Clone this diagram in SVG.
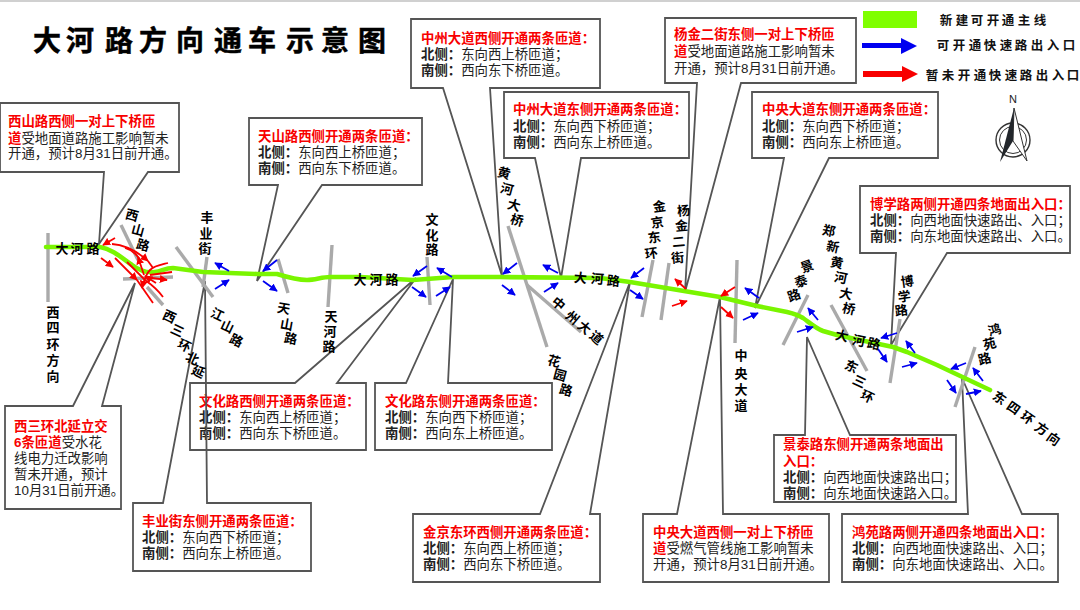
<svg xmlns="http://www.w3.org/2000/svg" width="1080" height="610" viewBox="0 0 1080 610">
<style>
text{font-family:"Liberation Sans","Noto Sans CJK SC",sans-serif}
.cb{fill:#fff;stroke:#555;stroke-width:1.8;stroke-linejoin:miter}
.t{font-size:13.4px;fill:#222}
.b{font-weight:700}
.r{font-weight:700;fill:#f80000}
.lb{font-size:13px;font-weight:700;fill:#000;text-anchor:middle;font-family:"Noto Sans CJK SC",sans-serif}
.lg{font-size:12.5px;font-weight:700;fill:#111;text-anchor:middle;font-family:"Noto Sans CJK SC",sans-serif}
.road{stroke:#aaa;stroke-width:3.4;fill:none}
.main{stroke:#7af500;stroke-width:4.6;fill:none;stroke-linejoin:round;stroke-linecap:round}
.ab{stroke:#0000f0;stroke-width:1.8;fill:none;marker-end:url(#mb)}
.ar{stroke:#f80000;stroke-width:1.8;fill:none;marker-end:url(#mr)}
.rl{stroke:#f80000;stroke-width:1.8;fill:none}
</style>
<defs>
<marker id="mb" viewBox="0 0 10 10" refX="9" refY="5" markerWidth="8" markerHeight="8" markerUnits="userSpaceOnUse" orient="auto"><path d="M0 0L10 5L0 10Z" fill="#0000f0"/></marker>
<marker id="mr" viewBox="0 0 10 10" refX="9" refY="5" markerWidth="8" markerHeight="8" markerUnits="userSpaceOnUse" orient="auto"><path d="M0 0L10 5L0 10Z" fill="#f80000"/></marker>
</defs>
<rect width="1080" height="610" fill="#fff"/>
<rect width="1080" height="2" fill="#d0d0d0"/>
<g id="title"><text class="lb" style="font-size:28px;stroke:#000;stroke-width:.5" x="47 80 119 153 190 228 262 300 335 372" y="51">大河路方向通车示意图</text></g>

<g id="box-xishan"><polygon class="cb" points="0,103 179,103 179,172 148,172 99,244 104,172 0,172"/>
<text class="t" x="8" y="125.500"><tspan class="r">西山路西侧一对上下桥匝</tspan></text>
<text class="t" x="8" y="142.500"><tspan class="r">道</tspan>受地面道路施工影响暂未</text>
<text class="t" x="8" y="158">开通，预计8月31日前开通。</text></g>

<g id="box-tianshan"><polygon class="cb" points="249,118 422,118 422,185 322,185 257,281 278,185 249,185"/>
<text class="t" x="258" y="140.500"><tspan class="r">天山路西侧开通两条匝道：</tspan></text>
<text class="t" x="258" y="156.500"><tspan class="b">北侧：</tspan>东向西上桥匝道；</text>
<text class="t" x="258" y="172.500"><tspan class="b">南侧：</tspan>西向东下桥匝道。</text></g>

<g id="box-zhongzhou-w"><polygon class="cb" points="411,19 600,19 600,88 490,88 502,276 443,88 411,88"/>
<text class="t" x="421" y="42.500"><tspan class="r">中州大道西侧开通两条匝道：</tspan></text>
<text class="t" x="421" y="58.500"><tspan class="b">北侧：</tspan>东向西上桥匝道；</text>
<text class="t" x="421" y="74.500"><tspan class="b">南侧：</tspan>西向东下桥匝道。</text></g>

<g id="box-zhongzhou-e"><polygon class="cb" points="504,92 689,92 689,158 581,158 561,278 535,158 504,158"/>
<text class="t" x="513" y="113.500"><tspan class="r">中州大道东侧开通两条匝道：</tspan></text>
<text class="t" x="513" y="130.500"><tspan class="b">北侧：</tspan>东向西下桥匝道；</text>
<text class="t" x="513" y="146.500"><tspan class="b">南侧：</tspan>西向东上桥匝道。</text></g>

<g id="box-yangjin"><polygon class="cb" points="665,18 856,18 856,83 741,83 685,292 697,83 665,83"/>
<text class="t" x="674" y="38.500"><tspan class="r">杨金二街东侧一对上下桥匝</tspan></text>
<text class="t" x="674" y="55.500"><tspan class="r">道</tspan>受地面道路施工影响暂未</text>
<text class="t" x="674" y="72.500">开通，预计8月31日前开通。</text></g>

<g id="box-zhongyang-e"><polygon class="cb" points="752,92 938,92 938,158 829,158 755,308 784,158 752,158"/>
<text class="t" x="762" y="113.500"><tspan class="r">中央大道东侧开通两条匝道：</tspan></text>
<text class="t" x="762" y="130.500"><tspan class="b">北侧：</tspan>东向西下桥匝道；</text>
<text class="t" x="762" y="146.500"><tspan class="b">南侧：</tspan>西向东上桥匝道。</text></g>

<g id="box-boxue"><polygon class="cb" points="860,186 1070,186 1070,253 947,253 891,345 896,253 860,253"/>
<text class="t" x="870" y="208.500"><tspan class="r">博学路两侧开通四条地面出入口：</tspan></text>
<text class="t" x="870" y="224.500"><tspan class="b">北侧：</tspan>向西地面快速路出、入口；</text>
<text class="t" x="870" y="240.500"><tspan class="b">南侧：</tspan>向东地面快速路出、入口。</text></g>

<g id="box-wenhua-w"><polygon class="cb" points="190,383 295,383 416,278 337,383 366,383 366,450 190,450"/>
<text class="t" x="199" y="405.500"><tspan class="r">文化路西侧开通两条匝道：</tspan></text>
<text class="t" x="199" y="421.500"><tspan class="b">北侧：</tspan>东向西上桥匝道；</text>
<text class="t" x="199" y="437.500"><tspan class="b">南侧：</tspan>西向东下桥匝道。</text></g>

<g id="box-wenhua-e"><polygon class="cb" points="375,383 406,383 453,279 448,383 552,383 552,450 375,450"/>
<text class="t" x="385" y="405.500"><tspan class="r">文化路东侧开通两条匝道：</tspan></text>
<text class="t" x="385" y="421.500"><tspan class="b">北侧：</tspan>东向西下桥匝道；</text>
<text class="t" x="385" y="437.500"><tspan class="b">南侧：</tspan>西向东上桥匝道。</text></g>

<g id="box-fengye"><polygon class="cb" style="fill:none" points="133,503 163,503 205,281 207,503 311,503 311,571 133,571"/>
<text class="t" x="142" y="525.500"><tspan class="r">丰业街东侧开通两条匝道：</tspan></text>
<text class="t" x="142" y="541.500"><tspan class="b">北侧：</tspan>东向西下桥匝道；</text>
<text class="t" x="142" y="557.500"><tspan class="b">南侧：</tspan>西向东上桥匝道。</text></g>

<g id="box-xisanhuan"><polygon class="cb" points="5,406 73,406 135,283 102,406 121,406 121,509 5,509"/>
<text class="t" x="14" y="430.500"><tspan class="r">西三环北延立交</tspan></text>
<text class="t" x="14" y="446.500"><tspan class="r">6条匝道</tspan>受水花</text>
<text class="t" x="14" y="462.500">线电力迁改影响</text>
<text class="t" x="14" y="478.500">暂未开通，预计</text>
<text class="t" x="14" y="494.500">10月31日前开通。</text></g>

<g id="box-jinjing"><polygon class="cb" points="413,514 540,514 630,282 590,514 600,514 600,582 413,582"/>
<text class="t" x="423" y="536.500"><tspan class="r">金京东环西侧开通两条匝道：</tspan></text>
<text class="t" x="423" y="552.500"><tspan class="b">北侧：</tspan>东向西上桥匝道；</text>
<text class="t" x="423" y="568.500"><tspan class="b">南侧：</tspan>西向东下桥匝道。</text></g>

<g id="box-zhongyang-w"><polygon class="cb" points="643,514 677,514 720,297 723,514 829,514 829,582 643,582"/>
<text class="t" x="653" y="536.500"><tspan class="r">中央大道西侧一对上下桥匝</tspan></text>
<text class="t" x="653" y="552.500"><tspan class="r">道</tspan>受燃气管线施工影响暂未</text>
<text class="t" x="653" y="568.500">开通，预计8月31日前开通。</text></g>

<g id="box-hongyuan"><polygon class="cb" points="842,514 968,514 962,378 1022,514 1058,514 1058,582 842,582"/>
<text class="t" x="852" y="536.500"><tspan class="r">鸿苑路两侧开通四条地面出入口：</tspan></text>
<text class="t" x="852" y="552.500"><tspan class="b">北侧：</tspan>向西地面快速路出、入口；</text>
<text class="t" x="852" y="568.500"><tspan class="b">南侧：</tspan>向东地面快速路出、入口。</text></g>

<g id="box-jingtai"><polygon class="cb" points="774,435 805,435 807,337 850,435 956,435 956,502 774,502"/>
<text class="t" x="783" y="448.500"><tspan class="r">景泰路东侧开通两条地面出</tspan></text>
<text class="t" x="783" y="465.500"><tspan class="r">入口：</tspan></text>
<text class="t" x="783" y="481.500"><tspan class="b">北侧：</tspan>向西地面快速路出口；</text>
<text class="t" x="783" y="497.500"><tspan class="b">南侧：</tspan>向东地面快速路入口。</text></g>

<g id="connectors">
<g id="roads" class="road">
<path d="M48 233L48 302"/><path d="M121 225L138 260"/><path d="M147 287L163 305"/><path d="M123 279L173 277"/><path d="M176 247L213 297"/><path d="M207 257L203 287"/><path d="M278 259L288 293"/><path d="M332 245L328 307"/><path d="M427 257L430 305"/><path d="M508 226L547 347"/><path d="M527 285L581 332"/><path d="M653 260L642 317"/><path d="M669 263L661 320"/><path d="M737 260L735 343"/><path d="M808 295L783 345"/><path d="M831 305L867 371"/><path d="M900 319L890 383"/><path d="M975 347L955 407"/>
</g>
<path class="main" d="M46 247L100 247C112 249 122 258 132 265C140 271 148 273 155 272C162 271 165 268 173 268L203 272L257 274L277 274C290 278 298 280 307 280C315 280 322 277 330 277L360 277L413 280L453 277L500 277L600 278L630 282L660 287L720 297L757 306L787 312C795 314 800 316 803 318C810 323 815 328 823 331L837 335L860 340L893 347L907 352L937 365L990 390"/>
<g id="ramps-red">
<path class="ar" d="M115 238L103 245"/><path class="ar" d="M101 258L113 267"/>
<path class="ar" d="M112 244C125 245 138 252 148 261"/><path class="rl" d="M148 261L153 268"/>
<path class="rl" d="M125 248C132 250 139 256 141 262"/><path class="ar" d="M144 275L138 257"/>
<path class="ar" d="M115 258L137 280"/><path class="rl" d="M137 280L153 303"/>
<path class="rl" d="M127 262L145 280"/>
<path class="ar" d="M168 263C160 265 154 266 150 270C146 274 144 280 142 288"/>
<path class="ar" d="M145 277L167 280"/><path class="rl" d="M145 280C152 285 158 290 163 297"/>
<path class="rl" d="M150 275L172 272"/><path class="ar" d="M156 283L145 276"/>
<path class="ar" d="M686 289L675 279"/><path class="ar" d="M672 306L687 301"/>
<path class="ar" d="M735 287L721 296"/><path class="ar" d="M721 307L733 318"/>
</g>
<g id="ramps-blue">
<path class="ab" d="M229 271L215 263"/><path class="ab" d="M215 289L229 280"/>
<path class="ab" d="M277 260L263 271"/><path class="ab" d="M263 281L277 291"/>
<path class="ab" d="M427 266L413 276"/><path class="ab" d="M412 287L426 297"/>
<path class="ab" d="M452 277L437 268"/><path class="ab" d="M436 296L450 287"/>
<path class="ab" d="M517 263L503 274"/><path class="ab" d="M502 285L515 295"/>
<path class="ab" d="M558 273L543 265"/><path class="ab" d="M544 292L558 283"/>
<path class="ab" d="M644 268L631 278"/><path class="ab" d="M630 290L643 299"/>
<path class="ab" d="M759 298L745 288"/><path class="ab" d="M743 320L758 313"/>
<path class="ab" d="M818 320L808 308"/><path class="ab" d="M797 332L813 327"/>
<path class="ab" d="M897 333L881 338"/><path class="ab" d="M878 349L887 362"/>
<path class="ab" d="M915 353L906 341"/><path class="ab" d="M902 367L917 363"/>
<path class="ab" d="M966 363L951 369"/><path class="ab" d="M947 380L956 393"/>
<path class="ab" d="M983 381L973 368"/><path class="ab" d="M966 394L981 391"/>
</g>
</g>

<g id="road-labels">
<text class="lb" x="53 53 53 53 53" y="317 332 349 365 381">西四环方向</text>
<text class="lb" x="131 137 142" y="218 233 248" rotate="15">西山路</text>
<text class="lb" x="207 206 205" y="222 238 253">丰业街</text>
<text class="lb" x="168 176 183 191 197" y="318 332 347 360 373" rotate="25">西三环北延</text>
<text class="lb" x="216 226 235" y="316 328 342" rotate="25">江山路</text>
<text class="lb" x="283 286 290" y="312 328 342" rotate="10">天山路</text>
<text class="lb" x="331 330 329" y="321 336 351">天河路</text>
<text class="lb" x="62 77 93" y="253 253 253">大河路</text>
<text class="lb" x="360 376 392" y="284 284 284">大河路</text>
<text class="lb" x="432 432 432" y="224 240 254">文化路</text>
<text class="lb" x="503 506 513 516" y="176 192 208 223" rotate="15">黄河大桥</text>
<text class="lb" x="557 571 583 595" y="303 317 327 337" rotate="40">中州大道</text>
<text class="lb" x="553 559 565" y="364 378 393" rotate="15">花园路</text>
<text class="lb" x="580 597 613" y="282 283 285" rotate="5">大河路</text>
<text class="lb" x="660 658 655 652" y="212 228 243 259" rotate="-8">金京东环</text>
<text class="lb" x="684 682 679 678" y="216 231 247 263" rotate="-5">杨金二街</text>
<text class="lb" x="741 741 741 741" y="360 378 394 410">中央大道</text>
<text class="lb" x="809 803 796" y="273 288 302" rotate="-20">景泰路</text>
<text class="lb" x="828 832 836 840 845 848" y="234 250 266 281 297 312" rotate="12">郑新黄河大桥</text>
<text class="lb" x="841 858 873" y="339 344 347" rotate="12">大河路</text>
<text class="lb" x="850 858 866" y="368 383 398" rotate="25">东三环</text>
<text class="lb" x="908 905 902" y="287 302 316" rotate="-8">博学路</text>
<text class="lb" x="996 991 986" y="336 350 365" rotate="-15">鸿苑路</text>
<text class="lb" x="998 1012 1026 1040 1052" y="398 408 418 429 439" rotate="35">东四环方向</text>
</g>

<g id="legend">
<rect x="863" y="11" width="54" height="17" fill="#7fff00"/>
<polygon points="862,43 901,43 901,38 917,46 901,54 901,48 862,48" fill="#0000f0"/>
<polygon points="863,71 902,71 902,66 918,74 902,82 902,77 863,77" fill="#f80000"/>
<text class="lg" x="946 962 977 993 1008 1024 1040" y="25">新建可开通主线</text>
<text class="lg" x="943 959 975 990 1006 1021 1037 1053 1069" y="50">可开通快速路出入口</text>
<text class="lg" x="932 948 964 980 995 1011 1026 1042 1058 1073" y="80">暂未开通快速路出入口</text>
</g>

<g id="compass">
<text x="1013" y="103" font-size="11" text-anchor="middle" fill="#222">N</text>
<circle cx="1013" cy="140" r="17" fill="none" stroke="#333" stroke-width="1.4"/>
<circle cx="1013" cy="140" r="13.500" fill="none" stroke="#333" stroke-width="1"/>
<polygon points="1014,108 1027,161 1013,141" fill="#fff" stroke="#333" stroke-width="1"/>
<polygon points="1014,108 1000,162 1013,141" fill="#22262b"/>
</g>
</svg>
